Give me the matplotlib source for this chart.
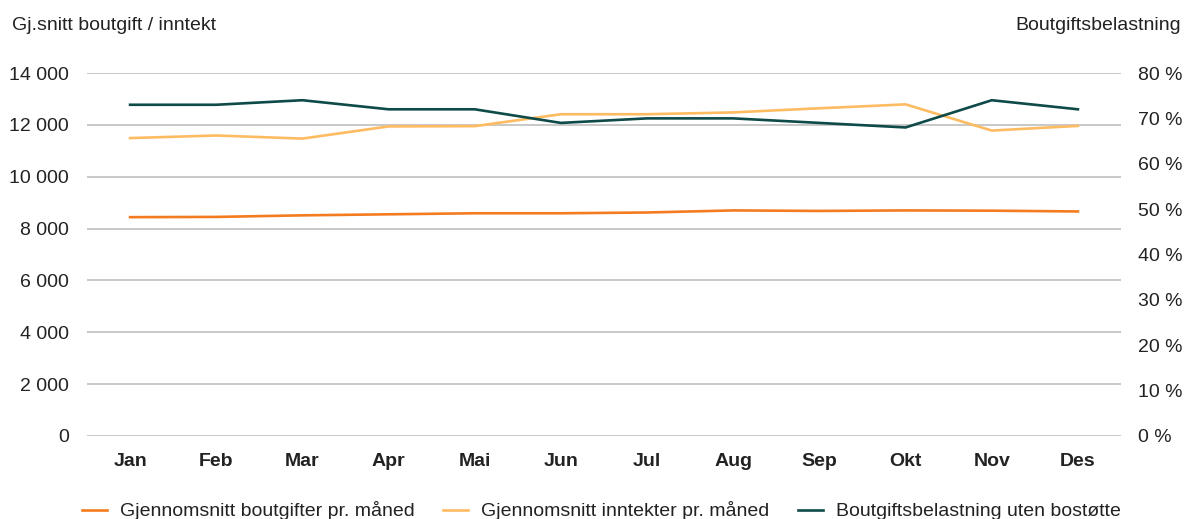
import matplotlib
matplotlib.use("Agg")
import matplotlib.pyplot as plt
from matplotlib.ticker import FuncFormatter

plt.rcParams['font.family'] = ['Liberation Sans', 'DejaVu Sans']

months = ["Jan", "Feb", "Mar", "Apr", "Mai", "Jun", "Jul", "Aug", "Sep", "Okt", "Nov", "Des"]
boutgifter = [8440, 8450, 8510, 8550, 8590, 8590, 8620, 8700, 8680, 8700, 8690, 8660]
inntekter = [11490, 11590, 11470, 11940, 11950, 12410, 12410, 12480, 12640, 12790, 11780, 11960]
belastning = [73.0, 73.0, 74.0, 72.0, 72.0, 69.0, 70.0, 70.0, 69.0, 68.0, 74.0, 72.0]

left_ticks = [0, 2000, 4000, 6000, 8000, 10000, 12000, 14000]
right_ticks = [0, 10, 20, 30, 40, 50, 60, 70, 80]

c_out = "#F47C20"
c_inn = "#FDBB62"
c_bel = "#0E4A47"
txt = "#222222"
fs = 14

fig = plt.figure(figsize=(11.84, 5.19), dpi=100)
ax = fig.add_axes([87/1184, 1-436/519, (1121-87)/1184, (436-73)/519])
ax2 = ax.twinx()

x = list(range(len(months)))
l1, = ax.plot(x, boutgifter, color=c_out, lw=1.9, label="Gjennomsnitt boutgifter pr. måned", zorder=3)
l2, = ax.plot(x, inntekter, color=c_inn, lw=1.9, label="Gjennomsnitt inntekter pr. måned", zorder=3)
l3, = ax2.plot(x, belastning, color=c_bel, lw=1.9, label="Boutgiftsbelastning uten bostøtte", zorder=3)

ax.set_xlim(-0.5, 11.5)
ax.set_ylim(0, 14000)
ax2.set_ylim(0, 80)
ax.set_yticks(left_ticks)
ax2.set_yticks(right_ticks)
ax.yaxis.set_major_formatter(FuncFormatter(lambda v, p: f"{int(v):,}".replace(",", " ")))
ax2.yaxis.set_major_formatter(FuncFormatter(lambda v, p: f"{int(v)} %"))
ax.set_xticks(x)
ax.set_xticklabels(months)

ax.grid(axis="y", color="#C4C4C4", lw=1.3)
ax.set_axisbelow(True)
for a in (ax, ax2):
    for s in a.spines.values():
        s.set_visible(False)
ax.tick_params(axis="y", length=0, pad=13, labelsize=fs, labelcolor=txt)
ax2.tick_params(axis="y", length=0, pad=12, labelsize=fs, labelcolor=txt)
ax.tick_params(axis="x", length=0, pad=12, labelsize=fs, labelcolor=txt)
for lab in ax.get_xticklabels():
    lab.set_fontweight("bold")

fig.text(12/1184, 1-25/519, "Gj.snitt boutgift / inntekt", ha="left", va="center", fontsize=fs, color=txt)
fig.text(1181/1184, 1-25/519, "Boutgiftsbelastning", ha="right", va="center", fontsize=fs, color=txt)

fig.legend(handles=[l1, l2, l3], loc="center", bbox_to_anchor=(0.508, 1-511/519), ncol=3,
           frameon=False, fontsize=fs, handlelength=1.3, columnspacing=1.45, handletextpad=0.67,
           labelcolor=txt)

fig.savefig("out.png", dpi=100)
